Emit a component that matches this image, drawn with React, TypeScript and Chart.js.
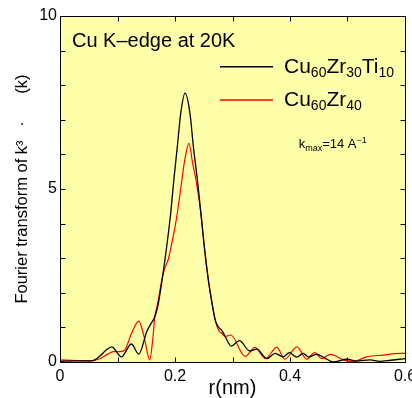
import React, { useEffect, useRef } from 'react';
import { Chart, registerables } from 'chart.js';

Chart.register(...registerables);

// Cu60Zr30Ti10 (black)
const blackR = [0, 0.03, 0.057, 0.07, 0.08, 0.09, 0.107, 0.124, 0.137, 0.151, 0.158, 0.164, 0.170, 0.1775, 0.1855, 0.1925, 0.198, 0.204, 0.21, 0.2174, 0.226, 0.232, 0.239, 0.245, 0.251, 0.258, 0.262, 0.27, 0.276, 0.281, 0.286, 0.298, 0.312, 0.33, 0.342, 0.36, 0.374, 0.388, 0.399, 0.412, 0.423, 0.432, 0.447, 0.46, 0.475, 0.499, 0.516, 0.539, 0.556, 0.575, 0.591, 0.6];
const blackV = [0.02, 0.03, 0.04, 0.18, 0.34, 0.44, 0.15, 0.52, 0.23, 0.88, 1.1, 1.27, 1.6, 2.37, 3.33, 4.3, 5.26, 6.22, 7.19, 7.77, 7.19, 6.22, 5.26, 4.3, 3.33, 2.37, 1.94, 1.21, 1.0, 0.92, 0.78, 0.46, 0.62, 0.32, 0.37, 0.1, 0.25, 0.15, 0.27, 0.14, 0.25, 0.15, 0.22, 0.12, 0.0, 0.08, 0.03, 0.06, 0.02, 0.05, 0.08, 0.1];

// Cu60Zr40 (red)
const redR = [0, 0.03, 0.055, 0.07, 0.082, 0.093, 0.105, 0.113, 0.125, 0.137, 0.146, 0.156, 0.161, 0.165, 0.170, 0.177, 0.182, 0.188, 0.194, 0.2, 0.204, 0.212, 0.216, 0.2243, 0.2307, 0.2365, 0.245, 0.251, 0.258, 0.262, 0.27, 0.277, 0.281, 0.287, 0.297, 0.322, 0.339, 0.357, 0.377, 0.391, 0.412, 0.429, 0.443, 0.455, 0.47, 0.493, 0.51, 0.533, 0.562, 0.591, 0.6];
const redV = [0.06, 0.04, 0.03, 0.1, 0.22, 0.3, 0.3, 0.36, 0.85, 1.18, 0.75, 0.06, 0.6, 1.31, 1.7, 2.37, 2.7, 2.95, 3.4, 3.9, 4.3, 5.26, 5.74, 6.32, 5.74, 5.26, 4.3, 3.33, 2.37, 1.94, 1.21, 0.88, 0.84, 0.74, 0.78, 0.16, 0.42, 0.1, 0.42, 0.08, 0.44, 0.08, 0.27, 0.1, 0.22, 0.06, 0.01, 0.15, 0.2, 0.25, 0.25];

const xLabeled = [0, 0.2, 0.4, 0.6];
const yLabeled = [0, 5, 10];

const FONT = '"Liberation Sans", Arial, Helvetica, sans-serif';
const BG = '#FFFFAA';

type Part = [string, number, number];

function drawParts(ctx: CanvasRenderingContext2D, parts: Part[], x: number, y: number) {
  let cx = x;
  for (const [t, size, dy] of parts) {
    ctx.font = `${size}px ${FONT}`;
    ctx.fillText(t, cx, y + dy);
    cx += ctx.measureText(t).width;
  }
}

const framePlugin = {
  id: 'frame',
  beforeDatasetsDraw(chart: any) {
    const { ctx, chartArea: a } = chart;
    ctx.save();
    ctx.fillStyle = BG;
    ctx.fillRect(a.left, a.top, a.right - a.left, a.bottom - a.top);
    ctx.restore();
  },
  afterDatasetsDraw(chart: any) {
    const { ctx, chartArea: a, scales } = chart;
    ctx.save();
    ctx.strokeStyle = '#000';
    ctx.lineWidth = 1;
    const L = Math.round(a.left) + 0.5;
    const R = Math.round(a.right) + 0.5;
    const T = Math.round(a.top) + 0.5;
    const B = Math.round(a.bottom) + 0.5;
    ctx.beginPath();
    ctx.rect(L, T, R - L, B - T);
    const tl = 5;
    for (const t of scales.x.ticks) {
      const px = Math.round(scales.x.getPixelForValue(t.value)) + 0.5;
      ctx.moveTo(px, B); ctx.lineTo(px, B - tl);
      ctx.moveTo(px, T); ctx.lineTo(px, T + tl);
    }
    for (const t of scales.y.ticks) {
      const py = Math.round(scales.y.getPixelForValue(t.value)) + 0.5;
      ctx.moveTo(L, py); ctx.lineTo(L + tl, py);
      ctx.moveTo(R, py); ctx.lineTo(R - tl, py);
    }
    ctx.stroke();

    // annotations & legend
    ctx.fillStyle = '#000';
    ctx.textBaseline = 'alphabetic';
    ctx.textAlign = 'left';
    ctx.font = `20px ${FONT}`;
    ctx.fillText('Cu K\u2013edge at 20K', a.left + 12, a.top + 30.7);

    ctx.lineWidth = 1.5;
    ctx.strokeStyle = '#000';
    ctx.beginPath();
    ctx.moveTo(a.left + 160, a.top + 50.7);
    ctx.lineTo(a.left + 213, a.top + 50.7);
    ctx.stroke();
    ctx.strokeStyle = '#FF0000';
    ctx.beginPath();
    ctx.moveTo(a.left + 160, a.top + 84);
    ctx.lineTo(a.left + 213, a.top + 84);
    ctx.stroke();

    drawParts(ctx, [['Cu', 21, 0], ['60', 14, 4], ['Zr', 21, 0], ['30', 14, 4], ['Ti', 21, 0], ['10', 14, 4]], a.left + 224, a.top + 56.7);
    drawParts(ctx, [['Cu', 21, 0], ['60', 14, 4], ['Zr', 21, 0], ['40', 14, 4]], a.left + 224, a.top + 90);
    drawParts(ctx, [['k', 13, 0], ['max', 9, 2.5], ['=14 A', 13, 0], ['\u22121', 9, -5]], a.left + 238.7, a.top + 132.3);
    ctx.restore();
  },
};

export default function App() {
  const ref = useRef<HTMLCanvasElement>(null);
  useEffect(() => {
    if (!ref.current) return;
    Chart.defaults.font.family = FONT;
    Chart.defaults.color = '#000';
    const chart = new Chart(ref.current, {
      type: 'line',
      data: {
        datasets: [
          {
            label: 'Cu60Zr30Ti10',
            data: blackR.map((r, i) => ({ x: r, y: blackV[i] })),
            borderColor: '#000000',
            borderWidth: 1.3,
            pointRadius: 0,
            fill: false,
            cubicInterpolationMode: 'monotone',
          },
          {
            label: 'Cu60Zr40',
            data: redR.map((r, i) => ({ x: r, y: redV[i] })),
            borderColor: '#FF0000',
            borderWidth: 1.2,
            pointRadius: 0,
            fill: false,
            cubicInterpolationMode: 'monotone',
          },
        ],
      },
      options: {
        animation: false,
        responsive: false,
        layout: { padding: { top: 16, right: 7, left: 0, bottom: 0 } },
        plugins: { legend: { display: false }, tooltip: { enabled: false } },
        scales: {
          x: {
            type: 'linear',
            min: 0,
            max: 0.6,
            afterFit: (s: any) => { s.height = 36; s.paddingLeft = 0; s.paddingRight = 0; },
            grid: { display: false, drawTicks: false },
            border: { display: false },
            ticks: {
              stepSize: 0.1,
              autoSkip: false,
              maxRotation: 0,
              padding: 5,
              font: { size: 16 },
              callback: (v: any) => {
                const n = Number(v);
                const hit = xLabeled.find((t) => Math.abs(t - n) < 1e-6);
                return hit === undefined ? '' : String(hit);
              },
            },
            title: {
              display: true,
              text: 'r(nm)',
              font: { size: 20, lineHeight: 1 },
              padding: { top: 0, bottom: 0 },
            },
          },
          y: {
            type: 'linear',
            min: 0,
            max: 10,
            afterFit: (s: any) => { s.width = 60; s.paddingTop = 0; s.paddingBottom = 0; },
            grid: { display: false, drawTicks: false },
            border: { display: false },
            ticks: {
              stepSize: 1,
              autoSkip: false,
              padding: 3,
              font: { size: 16 },
              callback: (v: any) => {
                const n = Number(v);
                const hit = yLabeled.find((t) => Math.abs(t - n) < 1e-6);
                return hit === undefined ? '' : String(hit);
              },
            },
            title: {
              display: true,
              text: 'Fourier transform of k\u00B3   \u00B7      (k)',
              font: { size: 16.5 },
              padding: { top: 13, bottom: 0 },
            },
          },
        },
      },
      plugins: [framePlugin],
    });
    return () => chart.destroy();
  }, []);
  return (
    <div style={{ position: 'absolute', left: 0, top: 0, width: 412, height: 398 }}>
      <canvas ref={ref} width={412} height={398} style={{ display: 'block' }} />
    </div>
  );
}
